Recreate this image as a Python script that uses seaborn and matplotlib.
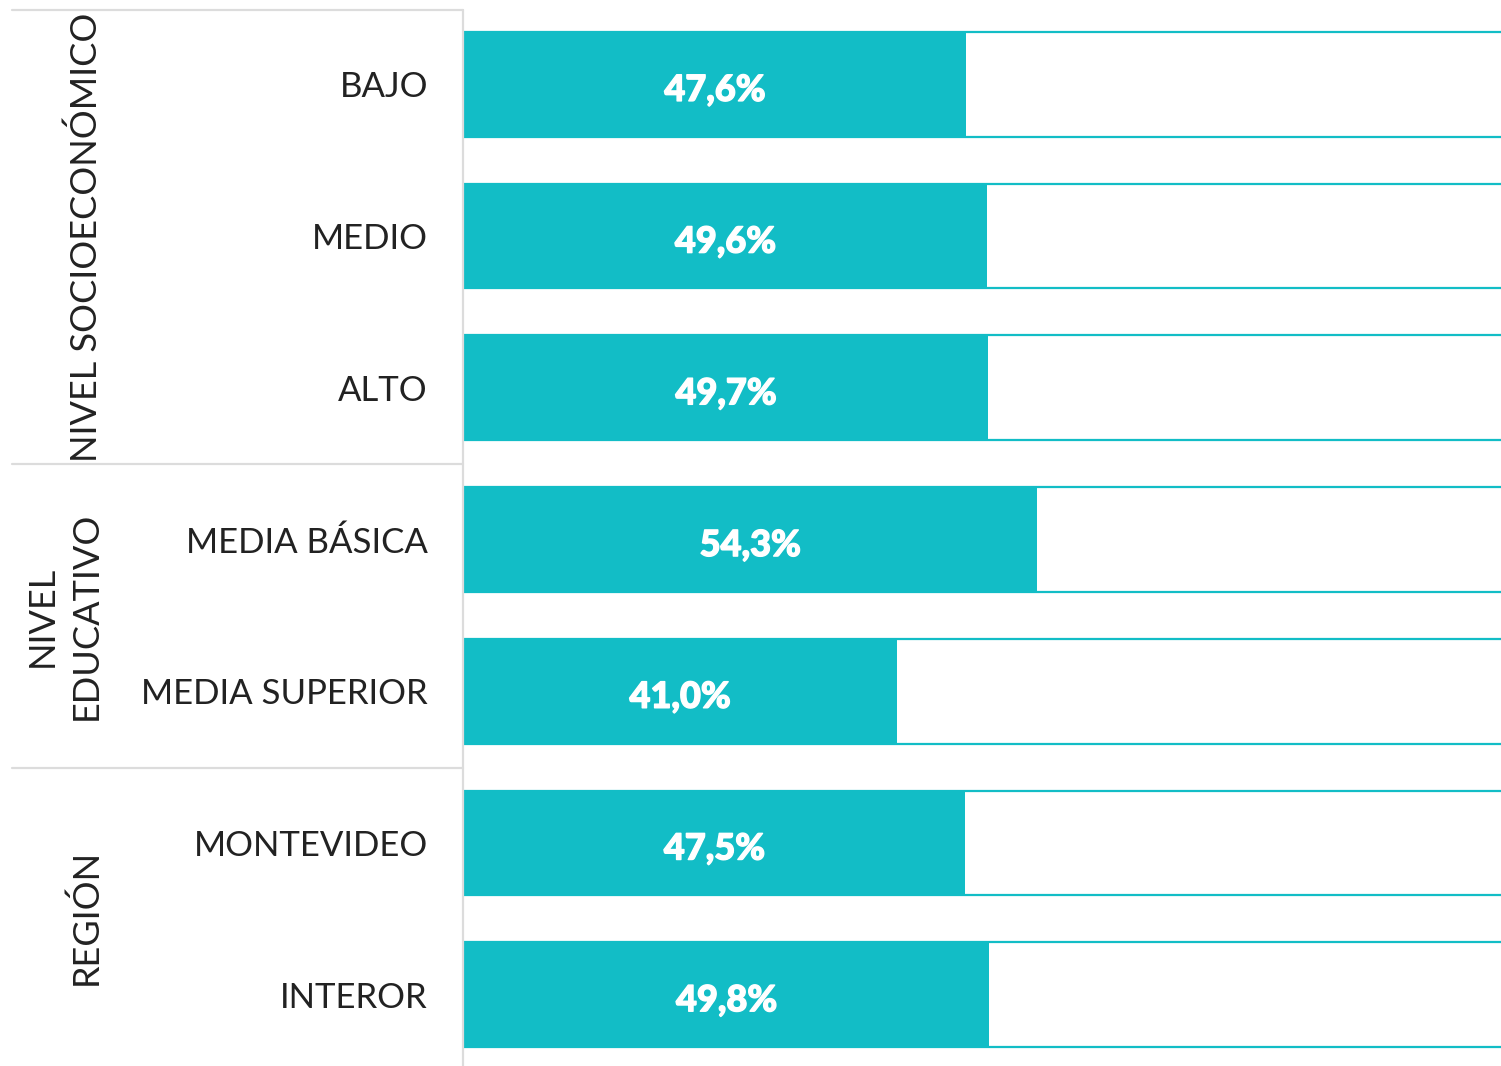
import matplotlib
matplotlib.use("Agg")
import matplotlib.pyplot as plt
import matplotlib.patheffects as pe
import seaborn as sns
import pandas as pd
from matplotlib.lines import Line2D

# data
categorias = ["BAJO", "MEDIO", "ALTO", "MEDIA BÁSICA", "MEDIA SUPERIOR", "MONTEVIDEO", "INTEROR"]
valores = [47.6, 49.6, 49.7, 54.3, 41.0, 47.5, 49.8]
etiquetas = ["47,6%", "49,6%", "49,7%", "54,3%", "41,0%", "47,5%", "49,8%"]
grupos = ["NIVEL SOCIOECONÓMICO", "NIVEL\nEDUCATIVO", "REGIÓN"]

teal = "#12BDC6"
gris = "#dcdcdc"

df = pd.DataFrame({"cat": categorias, "val": valores, "total": [100] * len(valores)})

sns.set_style("white")
plt.rcParams["font.family"] = ["Lato", "DejaVu Sans"]

W, H = 1501, 1066
fig = plt.figure(figsize=(W / 100, H / 100), dpi=100)
ax = fig.add_axes([464 / W, 0, 1 - 464 / W, (H - 10) / H])

# full-length outline bars, then the filled ones
sns.barplot(data=df, x="total", y="cat", orient="h", ax=ax, width=0.69,
            facecolor="none", edgecolor=teal, linewidth=1.6)
sns.barplot(data=df, x="val", y="cat", orient="h", ax=ax, width=0.69,
            color=teal, edgecolor="none", saturation=1)

ax.set_xlim(0, 98.3)
ax.set_ylim(6.47, -0.49)
ax.set_xlabel("")
ax.set_ylabel("")
ax.set_xticks([])
for s in ax.spines.values():
    s.set_visible(False)
ax.tick_params(axis="y", length=0, pad=26)
ax.set_yticks(range(len(categorias)))
ax.set_yticklabels(categorias, fontsize=25, color="#222222")

for i, (v, t) in enumerate(zip(valores, etiquetas)):
    ax.text(v / 2, i + 0.04, t, ha="center", va="center", color="white",
            fontsize=26, fontweight="black",
            path_effects=[pe.withStroke(linewidth=1.0, foreground="white")])

# group frame lines (pixel positions in figure)
def hline(y, x0=12, x1=463):
    fig.add_artist(Line2D([x0 / W, x1 / W], [1 - y / H, 1 - y / H], color=gris, lw=1.6))

hline(10)
hline(464)
hline(768)
fig.add_artist(Line2D([463 / W, 463 / W], [1 - 10 / H, 0], color=gris, lw=1.6))

# group labels
limites = [10, 464, 768, 1066]
for k, g in enumerate(grupos):
    yc = (limites[k] + limites[k + 1]) / 2
    xc = 64 if "\n" in g else 86
    fig.text(xc / W, 1 - yc / H, g, rotation=90, ha="center", va="center",
             fontsize=26, color="#222222", linespacing=1.4, multialignment="center")

fig.savefig("out.png", dpi=100)
